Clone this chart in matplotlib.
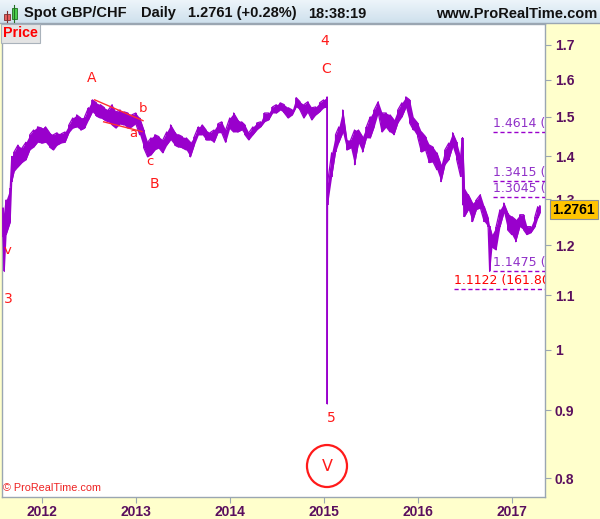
import matplotlib
matplotlib.use("Agg")
import matplotlib.pyplot as plt
import matplotlib.transforms as mtransforms
from matplotlib.patches import Rectangle, Ellipse
from matplotlib.ticker import FixedLocator, NullLocator, FixedFormatter
import numpy as np
import pandas as pd

# ---------------- data ----------------
dates = [
    "2011-08-04", "2011-08-09", "2011-08-16", "2011-09-01", "2011-09-07", "2011-09-16",
    "2011-10-01", "2011-10-16", "2011-11-01", "2011-11-16", "2011-12-01", "2011-12-16",
    "2012-01-01", "2012-01-16", "2012-02-01", "2012-02-16", "2012-03-01", "2012-03-16",
    "2012-04-01", "2012-04-16", "2012-05-01", "2012-05-16", "2012-06-01", "2012-06-16",
    "2012-07-01", "2012-07-16", "2012-08-01", "2012-08-16", "2012-09-01", "2012-09-16",
    "2012-10-01", "2012-10-16", "2012-11-01", "2012-11-16", "2012-12-01", "2012-12-16",
    "2013-01-01", "2013-01-16", "2013-02-01", "2013-02-16", "2013-03-01", "2013-03-16",
    "2013-04-01", "2013-04-16", "2013-05-01", "2013-05-16", "2013-06-01", "2013-06-16",
    "2013-07-01", "2013-07-16", "2013-08-01", "2013-08-16", "2013-09-01", "2013-09-16",
    "2013-10-01", "2013-10-16", "2013-11-01", "2013-11-16", "2013-12-01", "2013-12-16",
    "2014-01-01", "2014-01-16", "2014-02-01", "2014-02-16", "2014-03-01", "2014-03-16",
    "2014-04-01", "2014-04-16", "2014-05-01", "2014-05-16", "2014-06-01", "2014-06-16",
    "2014-07-01", "2014-07-16", "2014-08-01", "2014-08-16", "2014-09-01", "2014-09-16",
    "2014-10-01", "2014-10-16", "2014-11-01", "2014-11-16", "2014-12-01", "2014-12-16",
    "2015-01-01", "2015-01-14", "2015-01-15", "2015-01-16", "2015-02-01", "2015-02-16",
    "2015-03-01", "2015-03-16", "2015-04-01", "2015-04-16", "2015-05-01", "2015-05-16",
    "2015-06-01", "2015-06-16", "2015-07-01", "2015-07-16", "2015-08-01", "2015-08-16",
    "2015-09-01", "2015-09-16", "2015-10-01", "2015-10-16", "2015-11-01", "2015-11-16",
    "2015-12-01", "2015-12-16", "2016-01-01", "2016-01-16", "2016-02-01", "2016-02-16",
    "2016-03-01", "2016-03-16", "2016-04-01", "2016-04-16", "2016-05-01", "2016-05-16",
    "2016-06-01", "2016-06-16", "2016-06-23", "2016-06-24", "2016-07-01", "2016-07-16",
    "2016-08-01", "2016-08-16", "2016-09-01", "2016-09-16", "2016-10-01", "2016-10-07",
    "2016-10-16", "2016-11-01", "2016-11-16", "2016-12-01", "2016-12-16", "2017-01-01",
    "2017-01-16", "2017-02-01", "2017-02-16", "2017-03-01", "2017-03-16", "2017-04-01",
    "2017-04-12", "2017-04-20",
]
high = [
    1.280, 1.260, 1.298, 1.325, 1.400, 1.411,
    1.428, 1.420, 1.435, 1.454, 1.466, 1.474,
    1.471, 1.474, 1.459, 1.454, 1.459, 1.456,
    1.461, 1.479, 1.497, 1.505, 1.497, 1.500,
    1.524, 1.545, 1.537, 1.532, 1.524, 1.518,
    1.532, 1.513, 1.518, 1.513, 1.510, 1.505,
    1.510, 1.497, 1.466, 1.435, 1.446, 1.454,
    1.449, 1.441, 1.461, 1.479, 1.461, 1.454,
    1.449, 1.446, 1.435, 1.449, 1.474, 1.479,
    1.466, 1.459, 1.466, 1.482, 1.487, 1.466,
    1.497, 1.510, 1.492, 1.487, 1.479, 1.459,
    1.474, 1.484, 1.487, 1.510, 1.510, 1.526,
    1.532, 1.537, 1.532, 1.524, 1.518, 1.551,
    1.540, 1.532, 1.540, 1.524, 1.526, 1.537,
    1.545, 1.553, 1.550, 1.337, 1.409, 1.454,
    1.474, 1.518, 1.441, 1.441, 1.466, 1.466,
    1.449, 1.474, 1.500, 1.518, 1.540, 1.510,
    1.510, 1.505, 1.492, 1.518, 1.537, 1.553,
    1.545, 1.497, 1.484, 1.461, 1.449, 1.428,
    1.423, 1.409, 1.380, 1.416, 1.433, 1.459,
    1.435, 1.399, 1.446, 1.446, 1.325, 1.310,
    1.291, 1.298, 1.310, 1.283, 1.258, 1.240,
    1.222, 1.239, 1.276, 1.291, 1.269, 1.261,
    1.254, 1.265, 1.265, 1.239, 1.239, 1.261,
    1.283, 1.285,
]
low = [
    1.217, 1.146, 1.222, 1.249, 1.340, 1.364,
    1.375, 1.385, 1.392, 1.416, 1.423, 1.435,
    1.433, 1.435, 1.423, 1.416, 1.428, 1.433,
    1.435, 1.459, 1.471, 1.474, 1.466, 1.471,
    1.492, 1.513, 1.502, 1.497, 1.492, 1.487,
    1.479, 1.471, 1.482, 1.479, 1.471, 1.474,
    1.482, 1.454, 1.421, 1.399, 1.404, 1.416,
    1.421, 1.409, 1.428, 1.441, 1.428, 1.423,
    1.421, 1.416, 1.399, 1.428, 1.454, 1.454,
    1.441, 1.441, 1.435, 1.459, 1.459, 1.435,
    1.471, 1.461, 1.461, 1.466, 1.454, 1.441,
    1.454, 1.466, 1.474, 1.487, 1.492, 1.510,
    1.510, 1.518, 1.510, 1.497, 1.505, 1.526,
    1.518, 1.497, 1.513, 1.492, 1.505, 1.513,
    1.524, 1.526, 0.910, 1.287, 1.352, 1.411,
    1.435, 1.459, 1.416, 1.421, 1.380, 1.433,
    1.411, 1.446, 1.446, 1.474, 1.510, 1.461,
    1.474, 1.461, 1.454, 1.484, 1.500, 1.524,
    1.484, 1.466, 1.449, 1.411, 1.416, 1.385,
    1.387, 1.368, 1.340, 1.380, 1.392, 1.423,
    1.392, 1.352, 1.399, 1.287, 1.261, 1.276,
    1.250, 1.276, 1.280, 1.250, 1.239, 1.146,
    1.196, 1.190, 1.239, 1.269, 1.232, 1.222,
    1.207, 1.239, 1.232, 1.222, 1.226, 1.239,
    1.258, 1.268,
]
last_price = 1.2761

fib_levels = [1.4614, 1.3415, 1.3045, 1.1475]
fib_texts = ["1.4614 (", "1.3415 (", "1.3045 (", "1.1475 ("]
fib_start = "2016-10-19"
red_level = 1.1122
red_text = "1.1122 (161.80%)"
red_start = "2016-05-21"

wave_labels = [
    ("A", "2012-07-12", 1.605, 10), ("b", "2013-01-30", 1.521, 9.5),
    ("a", "2012-12-22", 1.456, 9.5), ("c", "2013-02-26", 1.389, 9.5),
    ("B", "2013-03-14", 1.335, 10), ("4", "2015-01-06", 1.712, 10),
    ("C", "2015-01-09", 1.630, 10), ("v", "2011-08-20", 1.188, 9.5),
    ("3", "2011-08-24", 1.092, 10), ("5", "2015-01-29", 0.888, 10),
]
upper_line = (["2012-07-25", "2013-01-29"], [1.545, 1.490])
lower_line = (["2012-08-29", "2013-01-25"], [1.487, 1.462])

year_ticks = ["2012-01-01", "2013-01-01", "2014-01-01", "2015-01-01", "2016-01-01", "2017-01-01"]
year_labels = ["2012", "2013", "2014", "2015", "2016", "2017"]
price_ticks = [0.8, 0.9, 1.0, 1.1, 1.2, 1.3, 1.4, 1.5, 1.6, 1.7]
price_labels = ["0.8", "0.9", "1", "1.1", "1.2", "1.3", "1.4", "1.5", "1.6", "1.7"]
x_start, x_end = "2011-07-31", "2017-05-10"

# ---------------- figure ----------------
W, H = 600, 519
fig = plt.figure(figsize=(W / 100, H / 100), dpi=100)
fig.patch.set_facecolor("#ffffcc")

def fx(x):
    return x / W

def fy(y):
    return 1 - y / H

PURPLE = "#9900cc"
AXIS_TXT = "#5a0f5e"
BORDER = "#9aa6b2"
FONT = "Liberation Sans"

# header gradient
hax = fig.add_axes([0, fy(23), 1, 23 / H])
grad = np.linspace(0, 1, 50).reshape(-1, 1)
c1 = np.array([0.93, 0.96, 0.98])
c2 = np.array([0.81, 0.88, 0.93])
img = c1 + (c2 - c1) * grad[:, :, None]
hax.imshow(np.repeat(img, 2, axis=1), aspect="auto", extent=[0, 1, 0, 1])
hax.set_axis_off()
fig.add_artist(plt.Line2D([0, 1], [fy(23), fy(23)], transform=fig.transFigure, color=BORDER, lw=1))

# icon candles
fig.add_artist(plt.Line2D([fx(6.8), fx(6.8)], [fy(22), fy(11)], transform=fig.transFigure, color="#803030", lw=0.8))
fig.add_artist(Rectangle((fx(4), fy(19.5)), fx(5.5), 6 / H, transform=fig.transFigure, fc="#e86060", ec="#803030", lw=0.6))
fig.add_artist(plt.Line2D([fx(14.2), fx(14.2)], [fy(22), fy(4.5)], transform=fig.transFigure, color="#207020", lw=0.8))
fig.add_artist(Rectangle((fx(11.5), fy(19)), fx(5.5), 11 / H, transform=fig.transFigure, fc="#4ed04e", ec="#207020", lw=0.6))

hdr_kw = dict(fontsize=10.5, fontweight="bold", family=FONT, color="#111111", va="center")
fig.text(fx(23.5), fy(13.5), "Spot GBP/CHF", **hdr_kw)
fig.text(fx(141), fy(13.5), "Daily", **hdr_kw)
fig.text(fx(187.5), fy(13.5), "1.2761 (+0.28%)", **hdr_kw)
fig.text(fx(308), fy(13.5), "18:38:19", **hdr_kw)
fig.text(fx(597), fy(13.5), "www.ProRealTime.com", ha="right", **hdr_kw)

# ---------------- main axes ----------------
ax = fig.add_axes([fx(2), fy(497), fx(543), 473 / H])
ax.set_facecolor("white")
d = pd.to_datetime(dates)
hi = np.array(high)
lo = np.array(low)

# solid high-low band, with a zig-zag outline of the bars for texture
ax.fill_between(d, lo, hi, color=PURPLE, lw=0, zorder=3)
xs, ys = [], []
for i in range(len(d)):
    pair = (hi[i], lo[i]) if i % 2 == 0 else (lo[i], hi[i])
    xs += [d[i], d[i]]
    ys += list(pair)
ax.plot(xs, ys, color=PURPLE, lw=0.9, zorder=3)
ax.vlines(d, lo, hi, color=PURPLE, lw=1.2, zorder=3)

ax.set_yscale("log")
ax.set_ylim(0.774, 1.763)
ax.set_xlim(pd.Timestamp(x_start), pd.Timestamp(x_end))

ax.yaxis.tick_right()
ax.yaxis.set_major_locator(FixedLocator(price_ticks))
ax.yaxis.set_major_formatter(FixedFormatter(price_labels))
ax.yaxis.set_minor_locator(NullLocator())
ax.set_xticks(pd.to_datetime(year_ticks))
ax.set_xticklabels(year_labels)
ax.xaxis.set_minor_locator(NullLocator())
ax.tick_params(axis="both", direction="out", length=4, color=BORDER, labelcolor=AXIS_TXT, labelsize=10)
ax.tick_params(axis="y", pad=3)
ax.tick_params(axis="x", pad=1.5)
for lab in ax.get_xticklabels() + ax.get_yticklabels():
    lab.set_fontweight("bold")
    lab.set_family(FONT)
for s in ax.spines.values():
    s.set_color(BORDER)
    s.set_linewidth(1)

# fib levels
for lvl, txt in zip(fib_levels, fib_texts):
    ax.plot(pd.to_datetime([fib_start, x_end]), [lvl, lvl], color=PURPLE, lw=1,
            ls=(0, (3, 2)), zorder=4)
    ax.annotate(txt, (pd.Timestamp(fib_start), lvl), xytext=(0, 1.5), textcoords="offset points",
                fontsize=9, color="#9030c8", family="DejaVu Sans", ha="left", va="bottom",
                annotation_clip=False, clip_on=True, zorder=5)
ax.plot(pd.to_datetime([red_start, x_end]), [red_level, red_level], color=PURPLE, lw=1,
        ls=(0, (3, 2)), zorder=4)
ax.annotate(red_text, (pd.Timestamp(red_start), red_level), xytext=(0, 1.5), textcoords="offset points",
            fontsize=9, color="#ff0000", family="DejaVu Sans", ha="left", va="bottom",
            annotation_clip=False, clip_on=True, zorder=5)

# wave labels
for txt, dt, pr, fs in wave_labels:
    ax.text(pd.Timestamp(dt), pr, txt, color="#ff1a1a", fontsize=fs, family="DejaVu Sans",
            ha="center", va="center", zorder=6)
ax.plot(pd.to_datetime(upper_line[0]), upper_line[1], color="#ff3030", lw=1, zorder=5)
ax.plot(pd.to_datetime(lower_line[0]), lower_line[1], color="#ff3030", lw=1, zorder=5)

# circled V
ax.add_patch(Ellipse((0.5985, 0.0655), 0.0737, 0.0888, transform=ax.transAxes, fill=False,
                     ec="#ff1a1a", lw=1.6, zorder=6))
ax.text(0.5985, 0.0655, "V", transform=ax.transAxes, color="#ff1a1a", fontsize=11.5,
        family="DejaVu Sans", ha="center", va="center", zorder=6)

# "Price" label
ax.text(0.002, 0.995, "Price", transform=ax.transAxes, color="#ff0000", fontsize=10.3,
        fontweight="bold", family=FONT, ha="left", va="top", zorder=7,
        bbox=dict(boxstyle="square,pad=0.15", fc="#e4e4e4", ec="#a9b2bb", lw=0.8))

# copyright
ax.text(0.002, 0.018, "\u00a9 ProRealTime.com", transform=ax.transAxes, color="#ee2222",
        fontsize=7.8, family=FONT, ha="left", va="center", zorder=7)

# current price tag
blend = mtransforms.blended_transform_factory(ax.transAxes, ax.transData)
ax.text(1.014, last_price, f"{last_price:.4f}", transform=blend, color="#000000", fontsize=10,
        fontweight="bold", family=FONT, ha="left", va="center", clip_on=False, zorder=10,
        bbox=dict(boxstyle="square,pad=0.18", fc="#ffc400", ec="#8a8f96", lw=0.8))

fig.savefig("out.png", dpi=100, facecolor=fig.get_facecolor())
